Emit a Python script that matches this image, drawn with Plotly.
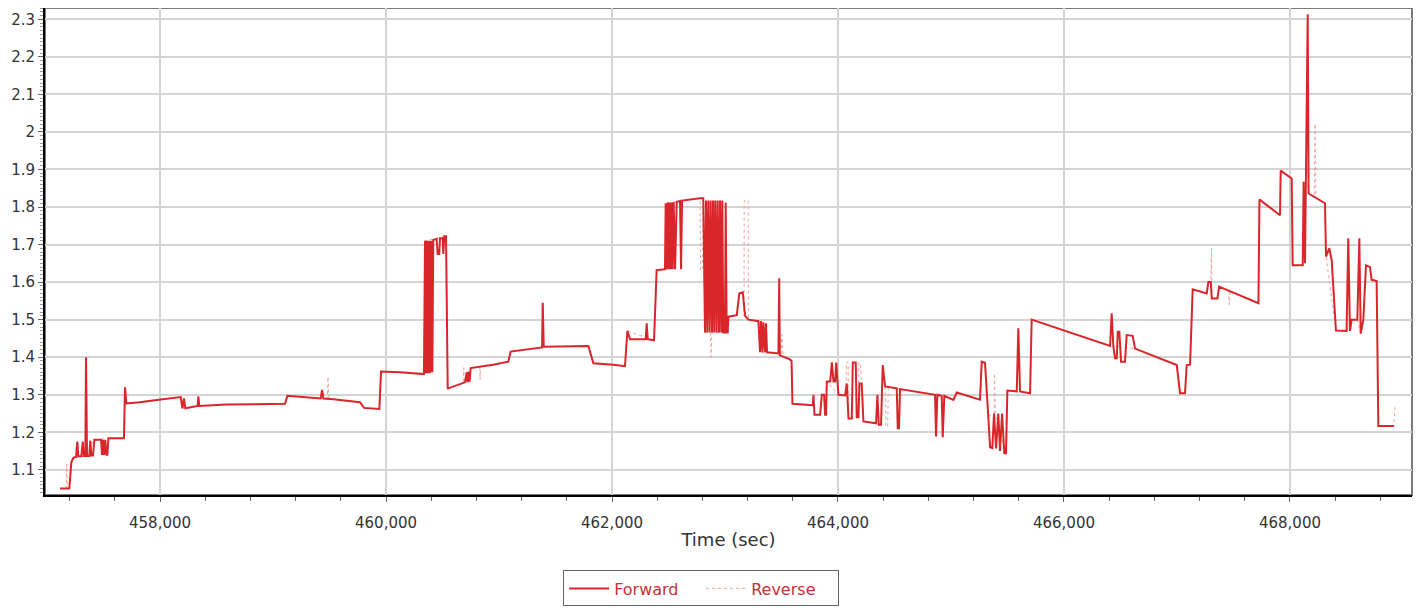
import plotly.graph_objects as go

# ---- data (time in sec, value) ----
fwd_t = [457115, 457197, 457215, 457233, 457257, 457268, 457277, 457303, 457316, 457325,
         457339, 457345, 457354, 457374, 457383, 457392, 457407, 457419, 457478, 457487,
         457496, 457504, 457516, 457525, 457534, 457543, 457681, 457690, 457702, 457823,
         457971, 458148, 458183, 458198, 458212, 458224, 458280, 458333, 458339, 458348,
         458590, 459106, 459127, 459357, 459422, 459434, 459446, 459534, 459770, 459805,
         459941, 459956, 460124, 460336, 460345, 460351, 460357, 460363, 460369, 460375,
         460381, 460387, 460393, 460398, 460404, 460410, 460418, 460448, 460457, 460471,
         460478, 460502, 460507, 460516, 460531, 460546, 460551, 460699, 460714, 460722,
         460731, 460740, 460749, 460949, 461082, 461103, 461363, 461381, 461387, 461396,
         461791, 461812, 461835, 462012, 462115, 462136, 462160, 462298, 462307, 462316,
         462372, 462395, 462469, 462475, 462484, 462493, 462502, 462511, 462520, 462528,
         462537, 462546, 462558, 462573, 462602, 462611, 462620, 462779, 462808, 462823,
         462832, 462843, 462852, 462864, 462873, 462885, 462894, 462905, 462914, 462926,
         462935, 462947, 462956, 462967, 462976, 462985, 463000, 463006, 463015, 463024,
         463030, 463104, 463127, 463157, 463178, 463207, 463296, 463310, 463319, 463331,
         463340, 463354, 463363, 463372, 463473, 463480, 463485, 463571, 463589, 463597,
         463753, 463777, 463783, 463792, 463842, 463857, 463877, 463886, 463895, 463901,
         463931, 463946, 463960, 463975, 463984, 464004, 464063, 464078, 464093, 464122,
         464131, 464157, 464166, 464181, 464190, 464210, 464225, 464337, 464349, 464361,
         464381, 464396, 464417, 464520, 464529, 464540, 464549, 464859, 464868, 464879,
         464918, 464927, 464941, 465021, 465051, 465257, 465272, 465301, 465330, 465346,
         465366, 465381, 465399, 465419, 465434, 465452, 465472, 465487, 465499, 465582,
         465596, 465611, 465700, 465714, 466408, 466422, 466437, 466452, 466467, 466476,
         466490, 466505, 466540, 466555, 466608, 466629, 466998, 467027, 467071, 467086,
         467116, 467139, 467263, 467278, 467299, 467308, 467358, 467373, 467721, 467730,
         467912, 467918, 468015, 468024, 468113, 468121, 468133, 468142, 468157, 468165,
         468310, 468319, 468348, 468369, 468407, 468501, 468516, 468531, 468546, 468596,
         468614, 468626, 468649, 468673, 468708, 468723, 468767, 468782, 468920]
fwd_v = [1.05, 1.05, 1.12, 1.132, 1.135, 1.175, 1.136, 1.136, 1.175, 1.137,
         1.137, 1.40, 1.137, 1.137, 1.178, 1.138, 1.138, 1.18, 1.18, 1.14,
         1.18, 1.14, 1.18, 1.14, 1.14, 1.184, 1.184, 1.32, 1.277, 1.28,
         1.286, 1.293, 1.294, 1.264, 1.29, 1.264, 1.268, 1.27, 1.296, 1.27,
         1.274, 1.276, 1.297, 1.293, 1.29, 1.313, 1.29, 1.288, 1.28, 1.265,
         1.262, 1.362, 1.36, 1.355, 1.71, 1.357, 1.71, 1.357, 1.71, 1.357,
         1.71, 1.357, 1.71, 1.36, 1.71, 1.36, 1.712, 1.715, 1.675, 1.675,
         1.717, 1.717, 1.675, 1.722, 1.722, 1.317, 1.317, 1.333, 1.36, 1.333,
         1.362, 1.335, 1.371, 1.38, 1.388, 1.415, 1.424, 1.426, 1.545, 1.428,
         1.43, 1.41, 1.384, 1.38, 1.376, 1.47, 1.448, 1.448, 1.49, 1.448,
         1.445, 1.632, 1.634, 1.81, 1.634, 1.812, 1.634, 1.812, 1.634, 1.812,
         1.634, 1.813, 1.634, 1.814, 1.816, 1.634, 1.817, 1.823, 1.823, 1.466,
         1.817, 1.466, 1.817, 1.466, 1.817, 1.466, 1.817, 1.466, 1.817, 1.466,
         1.817, 1.466, 1.817, 1.466, 1.817, 1.466, 1.466, 1.812, 1.466, 1.466,
         1.508, 1.512, 1.57, 1.573, 1.51, 1.50, 1.496, 1.413, 1.496, 1.413,
         1.493, 1.413, 1.49, 1.413, 1.41, 1.61, 1.405, 1.395, 1.39, 1.276,
         1.273, 1.272, 1.30, 1.247, 1.247, 1.30, 1.30, 1.247, 1.247, 1.335,
         1.335, 1.386, 1.335, 1.335, 1.386, 1.30, 1.298, 1.33, 1.237, 1.237,
         1.386, 1.386, 1.24, 1.24, 1.33, 1.33, 1.229, 1.224, 1.30, 1.22,
         1.22, 1.379, 1.322, 1.317, 1.211, 1.211, 1.315, 1.30, 1.189, 1.30,
         1.297, 1.187, 1.297, 1.286, 1.306, 1.287, 1.388, 1.385, 1.242, 1.16,
         1.158, 1.25, 1.157, 1.25, 1.15, 1.25, 1.144, 1.144, 1.311, 1.309,
         1.477, 1.309, 1.304, 1.50, 1.43, 1.517, 1.428, 1.397, 1.397, 1.468,
         1.468, 1.388, 1.388, 1.459, 1.457, 1.423, 1.379, 1.304, 1.304, 1.379,
         1.38, 1.581, 1.57, 1.60, 1.60, 1.556, 1.556, 1.588, 1.544, 1.82,
         1.778, 1.897, 1.876, 1.645, 1.645, 1.867, 1.65, 1.86, 2.313, 1.836,
         1.81, 1.668, 1.69, 1.659, 1.471, 1.47, 1.717, 1.47, 1.50, 1.50,
         1.717, 1.463, 1.50, 1.645, 1.64, 1.606, 1.603, 1.217, 1.217]

rev_t = [457115, 457170, 457174, 457180, 457197, 457215, 457233, 457340, 457419, 457543,
         457681, 457690, 457702, 457971, 458183, 458198, 458280, 458590, 459106, 459127,
         459357, 459480, 459487, 459494, 459770, 459805, 459941, 459956, 460336, 460345,
         460531, 460546, 460684, 460688, 460692, 460749, 460830, 460832, 460836, 461082,
         461103, 461396, 461791, 461835, 462115, 462136, 462372, 462395, 462469, 462475,
         462779, 462783, 462800, 462808, 462823, 462870, 462877, 462884, 463024, 463030,
         463104, 463127, 463157, 463168, 463170, 463205, 463207, 463296, 463310, 463470,
         463485, 463495, 463505, 463515, 463589, 463597, 463753, 463777, 463792, 463842,
         463857, 463877, 463886, 463895, 463901, 464004, 464063, 464070,
         464075, 464090, 464093, 464180, 464185, 464195, 464210, 464225, 464381, 464396,
         464417, 464425, 464440, 464445, 464549, 464859, 464941, 465021, 465051, 465257,
         465272, 465301, 465330, 465381, 465385, 465392,
         465487, 465499, 465700, 465714, 466408, 466629, 466998, 467027, 467071, 467086,
         467116, 467139, 467263, 467278, 467299, 467305,
         467310, 467358, 467373, 467455, 467464, 467470, 467721, 467730, 467912, 467918,
         468015, 468024, 468113, 468121, 468157, 468165, 468215, 468222, 468230, 468310,
         468319, 468407, 468501, 468546, 468596, 468626, 468649, 468673, 468708, 468723,
         468767, 468782, 468920, 468930]
rev_v = [1.05, 1.05, 1.115, 1.05, 1.05, 1.12, 1.132, 1.137, 1.18, 1.184,
         1.184, 1.32, 1.277, 1.286, 1.294, 1.264, 1.268, 1.274, 1.276, 1.297,
         1.293, 1.289, 1.348, 1.289, 1.28, 1.265, 1.262, 1.362, 1.355, 1.71,
         1.722, 1.317, 1.332, 1.372, 1.334, 1.371, 1.375, 1.34, 1.376, 1.388,
         1.415, 1.428, 1.43, 1.384, 1.376, 1.47, 1.445, 1.632, 1.634, 1.81,
         1.823, 1.632, 1.632, 1.823, 1.466, 1.466, 1.40, 1.466, 1.466, 1.508,
         1.512, 1.57, 1.573, 1.51, 1.817, 1.817, 1.50, 1.496, 1.413, 1.41,
         1.48, 1.405, 1.46, 1.40, 1.39, 1.276, 1.273, 1.272, 1.247, 1.247,
         1.30, 1.30, 1.247, 1.247, 1.335, 1.30, 1.298, 1.298,
         1.386, 1.386, 1.237, 1.24, 1.386, 1.386, 1.33, 1.229, 1.22, 1.379,
         1.322, 1.215, 1.215, 1.32, 1.315, 1.30, 1.297, 1.286, 1.306, 1.287,
         1.388, 1.385, 1.242, 1.25, 1.357, 1.25,
         1.144, 1.311, 1.304, 1.50, 1.43, 1.423, 1.379, 1.304, 1.304, 1.379,
         1.38, 1.581, 1.57, 1.60, 1.60, 1.69,
         1.556, 1.556, 1.588, 1.578, 1.54, 1.576, 1.544, 1.82, 1.778, 1.897,
         1.876, 1.645, 1.645, 1.867, 1.86, 1.836, 1.826, 2.022, 1.824, 1.81,
         1.668, 1.471, 1.47, 1.50, 1.50, 1.463, 1.50, 1.645, 1.64, 1.606,
         1.603, 1.217, 1.217, 1.27]

x_range = [456982, 469080]
y_range = [1.033, 2.33]

fig = go.Figure()
fig.add_trace(go.Scatter(x=rev_t, y=rev_v, mode="lines", name="Reverse",
                         line=dict(color="#f2a0a0", width=1, dash="dot")))
fig.add_trace(go.Scatter(x=fwd_t, y=fwd_v, mode="lines", name="Forward",
                         line=dict(color="#d9262b", width=2)))

# page body has an 8px margin: figure is offset by (8, 8)
fig.update_layout(
    width=1416, height=600,
    margin=dict(l=37, r=12, t=0, b=113),
    paper_bgcolor="white", plot_bgcolor="white",
    font=dict(family="DejaVu Sans", size=15, color="#333333"),
    showlegend=True,
    legend=dict(orientation="h", x=0.48, xanchor="center", y=-0.155, yanchor="top",
                bordercolor="#666666", borderwidth=1, traceorder="reversed",
                itemwidth=40, entrywidth=82,
                font=dict(color="#c9303a", size=16)),
    shapes=[dict(type="rect", xref="paper", yref="paper", x0=0, x1=1, y0=0, y1=1,
                 line=dict(color="#7a7a7a", width=2), layer="below")],
)
fig.update_xaxes(
    range=x_range, tick0=458000, dtick=2000, tickformat=",", automargin=False,
    showgrid=True, gridcolor="#d4d4d4", gridwidth=2, zeroline=False,
    ticks="outside", ticklen=5, tickcolor="#666666", ticklabelstandoff=8,
    showline=True, linecolor="black", linewidth=2,
    minor=dict(dtick=400, tick0=458000, ticks="outside", ticklen=4, tickcolor="#666666", showgrid=False),
    title=dict(text="Time (sec)", standoff=2),
)
fig.update_yaxes(
    range=y_range, tick0=1.1, dtick=0.1, automargin=False,
    showgrid=True, gridcolor="#d4d4d4", gridwidth=2, zeroline=False,
    ticks="outside", ticklen=5, tickcolor="#666666",
    showline=True, linecolor="black", linewidth=2,
    minor=dict(dtick=0.01, tick0=1.1, ticks="outside", ticklen=3, tickcolor="#999999", showgrid=False),
)

fig.write_html("out.html", config={"displayModeBar": False})
